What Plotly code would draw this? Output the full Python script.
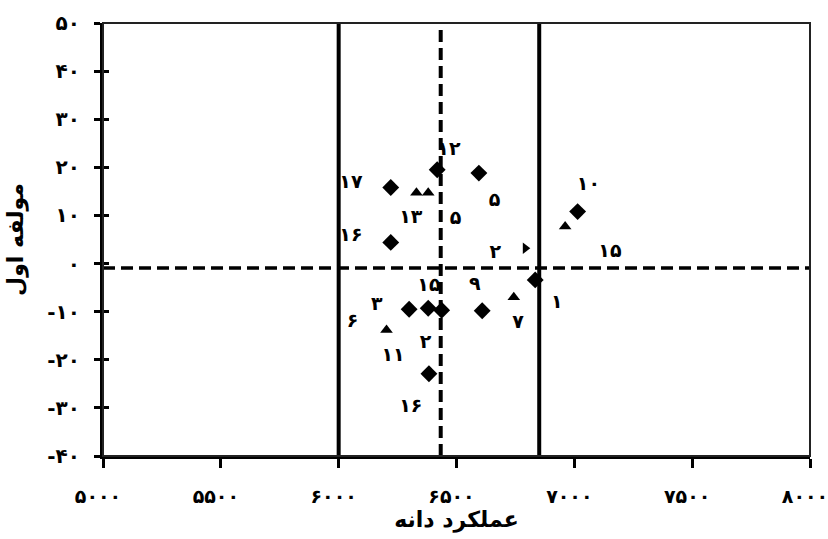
import plotly.graph_objects as go

# ---- data ----
diamond_x = [6221, 6418, 6595, 6221, 6834, 6299, 6380, 6437, 6609, 6383, 7014]
diamond_y = [15.8, 19.5, 18.8, 4.4, -3.4, -9.5, -9.3, -9.7, -9.8, -22.9, 10.8]

triangle_x = [6330, 6380, 6961, 6743, 6203]
triangle_y = [14.7, 14.7, 7.7, -7.0, -13.8]

rtri_x = [6792]
rtri_y = [3.2]

label_text = ["۱۲", "۱۷", "۱۳", "۵", "۵", "۱۰", "۱۶", "۲", "۱۵", "۱۵", "۹", "۳", "۱", "۶", "۷", "۲", "۱۱", "۱۶"]
label_x = [6468, 6052, 6306, 6496, 6661, 7060, 6052, 6665, 7151, 6383, 6578, 6162, 6926, 6059, 6761, 6369, 6231, 6306]
label_y = [23.6, 16.7, 9.4, 9.2, 13.0, 16.3, 5.6, 2.1, 2.3, -4.7, -4.5, -8.6, -8.3, -12.1, -12.4, -16.5, -19.3, -29.8]

x_mean = 6433
x_low = 6000
x_high = 6851
y_mean = -0.9

x_ticks = [5000, 5500, 6000, 6500, 7000, 7500, 8000]
x_ticktext = ["۵۰۰۰", "۵۵۰۰", "۶۰۰۰", "۶۵۰۰", "۷۰۰۰", "۷۵۰۰", "۸۰۰۰"]
y_ticks = [50, 40, 30, 20, 10, 0, -10, -20, -30, -40]
y_ticktext = ["۵۰", "۴۰", "۳۰", "۲۰", "۱۰", "۰", "-۱۰", "-۲۰", "-۳۰", "-۴۰"]

x_title = "عملکرد دانه"
y_title = "مولفه اول"

FONT = "DejaVu Sans"

fig = go.Figure()

fig.add_trace(go.Scatter(x=diamond_x, y=diamond_y, mode="markers",
                         marker=dict(symbol="diamond", size=13, color="black"),
                         showlegend=False))
fig.add_trace(go.Scatter(x=triangle_x, y=triangle_y, mode="markers",
                         marker=dict(symbol="triangle-up", size=11, color="black"),
                         showlegend=False))
fig.add_trace(go.Scatter(x=rtri_x, y=rtri_y, mode="markers",
                         marker=dict(symbol="triangle-right", size=10, color="black"),
                         showlegend=False))
fig.add_trace(go.Scatter(x=label_x, y=label_y, mode="text", text=label_text,
                         textfont=dict(family=FONT, size=19, color="black", weight="bold"),
                         showlegend=False))
# dummy trace to activate overlay axis (crossing ticks)
fig.add_trace(go.Scatter(x=[x_ticks[0]], y=[y_ticks[0]], yaxis="y2", mode="markers",
                         marker=dict(opacity=0), showlegend=False, hoverinfo="skip"))

# reference lines
fig.add_shape(type="line", x0=x_low, x1=x_low, y0=-40, y1=50,
              line=dict(color="black", width=4))
fig.add_shape(type="line", x0=x_high, x1=x_high, y0=-40, y1=50,
              line=dict(color="black", width=4))
fig.add_shape(type="line", x0=x_mean, x1=x_mean, y0=-40, y1=50,
              line=dict(color="black", width=4, dash="12px,6px"))
fig.add_shape(type="line", x0=5000, x1=8000, y0=y_mean, y1=y_mean,
              line=dict(color="black", width=3.5, dash="12px,6px"))
# frame
fig.add_shape(type="rect", xref="paper", yref="paper", x0=0, x1=1, y0=0, y1=1,
              line=dict(color="#222", width=2), layer="above")

fig.update_layout(
    width=828, height=539,
    margin=dict(l=103, r=18, t=23, b=83),
    plot_bgcolor="white", paper_bgcolor="white",
    font=dict(family=FONT, size=20, color="black", weight="bold"),
    xaxis=dict(range=[5000, 8000], tickvals=x_ticks, ticktext=x_ticktext,
               tickfont=dict(size=19),
               showgrid=False, zeroline=False, showline=True, linecolor="black",
               linewidth=3, ticks="outside", ticklen=9, tickwidth=3, tickcolor="black",
               ticklabelstandoff=12, ticklabelshift=-5, ticklabeloverflow="allow",
               automargin=False,
               title=dict(text=x_title, font=dict(size=22, weight="bold"), standoff=6)),
    yaxis=dict(range=[-40, 50], tickvals=y_ticks, ticktext=y_ticktext,
               showgrid=False, zeroline=False, showline=True, linecolor="black",
               linewidth=3, ticks="outside", ticklen=6, tickwidth=3, tickcolor="black",
               ticklabelstandoff=10, automargin=False,
               title=dict(text=y_title, font=dict(size=22, weight="bold"), standoff=18)),
    yaxis2=dict(range=[-40, 50], overlaying="y", side="left", tickvals=y_ticks,
                showticklabels=False, showgrid=False, zeroline=False, showline=False,
                ticks="inside", ticklen=6, tickwidth=3, tickcolor="black",
                automargin=False),
)

fig.write_html("out.html")
